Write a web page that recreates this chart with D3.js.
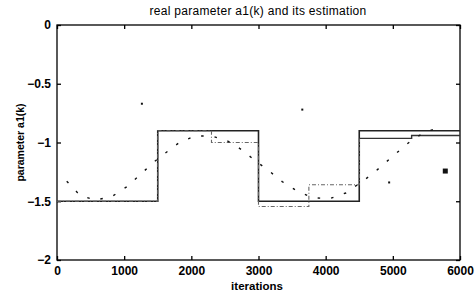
<!DOCTYPE html>
<html>
<head>
<meta charset="utf-8">
<script src="https://cdn.jsdelivr.net/npm/d3@7"></script>
<style>
body { margin: 0; background: #fff; }
text { font-family: "Liberation Sans", Arial, sans-serif; }
</style>
</head>
<body>
<div id="chart"></div>
<script>
// real parameter a1(k): step values
var realX = [0, 1500, 1500, 3000, 3000, 4500, 4500, 6000];
var realY = [-1.5, -1.5, -0.9, -0.9, -1.5, -1.5, -0.9, -0.9];

// slow estimate (dotted)
var est1X = [145, 343, 567, 816, 1030, 1229, 1413, 1500, 1612, 1821, 2050, 2309, 2550, 2757, 2955, 3154, 3353, 3567, 3801, 4060, 4299, 4473, 4697, 4896, 5095, 5294, 5493, 5741];
var est1Y = [-1.33, -1.45, -1.49, -1.46, -1.38, -1.28, -1.18, -1.14, -1.09, -1.0, -0.945, -0.945, -0.99, -1.064, -1.157, -1.24, -1.333, -1.41, -1.47, -1.478, -1.43, -1.36, -1.268, -1.168, -1.07, -0.973, -0.908, -0.865];

// fast estimate (dash-dot until 4500, then solid)
var est2X = [0, 1500, 1500, 2300, 2300, 3000, 3000, 3750, 3750, 4500, 4500];
var est2Y = [-1.5, -1.5, -0.9, -0.9, -1.0, -1.0, -1.545, -1.545, -1.36, -1.36, -0.965];
var est2bX = [4500, 5280, 5280, 6000];
var est2bY = [-0.965, -0.965, -0.94, -0.94];

// stray samples
var strayX = [1264, 3652, 4945, 5781];
var strayY = [-0.67, -0.72, -1.34, -1.243];

var xTicks = [0, 1000, 2000, 3000, 4000, 5000, 6000];
var yTicks = [0, -0.5, -1, -1.5, -2];

var W = 476, H = 297;
var mLeft = 57, mRight = 460, mTop = 25, mBottom = 260;

var svg = d3.select("#chart").append("svg")
    .attr("width", W)
    .attr("height", H);

var x = d3.scaleLinear().domain([0, 6000]).range([mLeft, mRight]);
var y = d3.scaleLinear().domain([-2, 0]).range([mBottom, mTop]);

function pts(xs, ys) {
    return xs.map(function(v, i) { return [v, ys[i]]; });
}

var line = d3.line()
    .x(function(d) { return x(d[0]); })
    .y(function(d) { return y(d[1]); });

// frame
svg.append("rect")
    .attr("x", mLeft).attr("y", mTop)
    .attr("width", mRight - mLeft).attr("height", mBottom - mTop)
    .style("fill", "none").style("stroke", "#000").style("stroke-width", 1.3);

// ticks on all four sides
var gx = svg.append("g").attr("transform", "translate(0," + mBottom + ")")
    .call(d3.axisBottom(x).tickValues(xTicks).tickSize(-4).tickPadding(6).tickFormat(d3.format("d")));
var gxt = svg.append("g").attr("transform", "translate(0," + mTop + ")")
    .call(d3.axisTop(x).tickValues(xTicks).tickSize(-4).tickFormat(""));
var gy = svg.append("g").attr("transform", "translate(" + mLeft + ",0)")
    .call(d3.axisLeft(y).tickValues(yTicks).tickSize(-4).tickPadding(6).tickFormat(function(d) { return d === 0 ? "0" : d3.format("")(d); }));
var gyr = svg.append("g").attr("transform", "translate(" + mRight + ",0)")
    .call(d3.axisRight(y).tickValues(yTicks).tickSize(-4).tickFormat(""));

[gx, gxt, gy, gyr].forEach(function(g) {
    g.select(".domain").remove();
    g.selectAll("line").style("stroke", "#000").style("stroke-width", 1.3);
    g.selectAll("text").style("font-size", "12px").style("font-weight", "bold").style("fill", "#000");
});

// real parameter
svg.append("path")
    .datum(pts(realX, realY))
    .attr("d", line)
    .style("fill", "none").style("stroke", "#222").style("stroke-width", 1.6);

// fast estimate
svg.append("path")
    .datum(pts(est2X, est2Y))
    .attr("d", line)
    .style("fill", "none").style("stroke", "#666").style("stroke-width", 1.1)
    .style("stroke-dasharray", "4,2,1,2");
svg.append("path")
    .datum(pts(est2bX, est2bY))
    .attr("d", line)
    .style("fill", "none").style("stroke", "#333").style("stroke-width", 1.4);

// slow estimate
svg.append("path")
    .datum(pts(est1X, est1Y))
    .attr("d", line)
    .style("fill", "none").style("stroke", "#111").style("stroke-width", 1.4)
    .style("stroke-dasharray", "2.5,11");

svg.append("g").selectAll("rect")
    .data(pts(strayX, strayY))
    .enter().append("rect")
    .attr("x", function(d, i) { return x(d[0]) - (i === 3 ? 2.5 : 1); })
    .attr("y", function(d, i) { return y(d[1]) - (i === 3 ? 2.5 : 1); })
    .attr("width", function(d, i) { return i === 3 ? 5 : 2; })
    .attr("height", function(d, i) { return i === 3 ? 5 : 2; })
    .style("fill", "#111");

// title
svg.append("text")
    .attr("x", 258).attr("y", 15)
    .attr("text-anchor", "middle")
    .style("font-size", "12px").style("letter-spacing", "0.3px")
    .text("real parameter a1(k) and its estimation");

// x label
svg.append("text")
    .attr("x", 257).attr("y", 290)
    .attr("text-anchor", "middle")
    .style("font-size", "11.5px").style("font-weight", "bold")
    .text("iterations");

// y label
svg.append("text")
    .attr("text-anchor", "middle")
    .attr("transform", "translate(24," + ((mTop + mBottom) / 2) + ")rotate(-90)")
    .style("font-size", "10.5px").style("font-weight", "bold")
    .text("parameter a1(k)");
</script>
</body>
</html>
